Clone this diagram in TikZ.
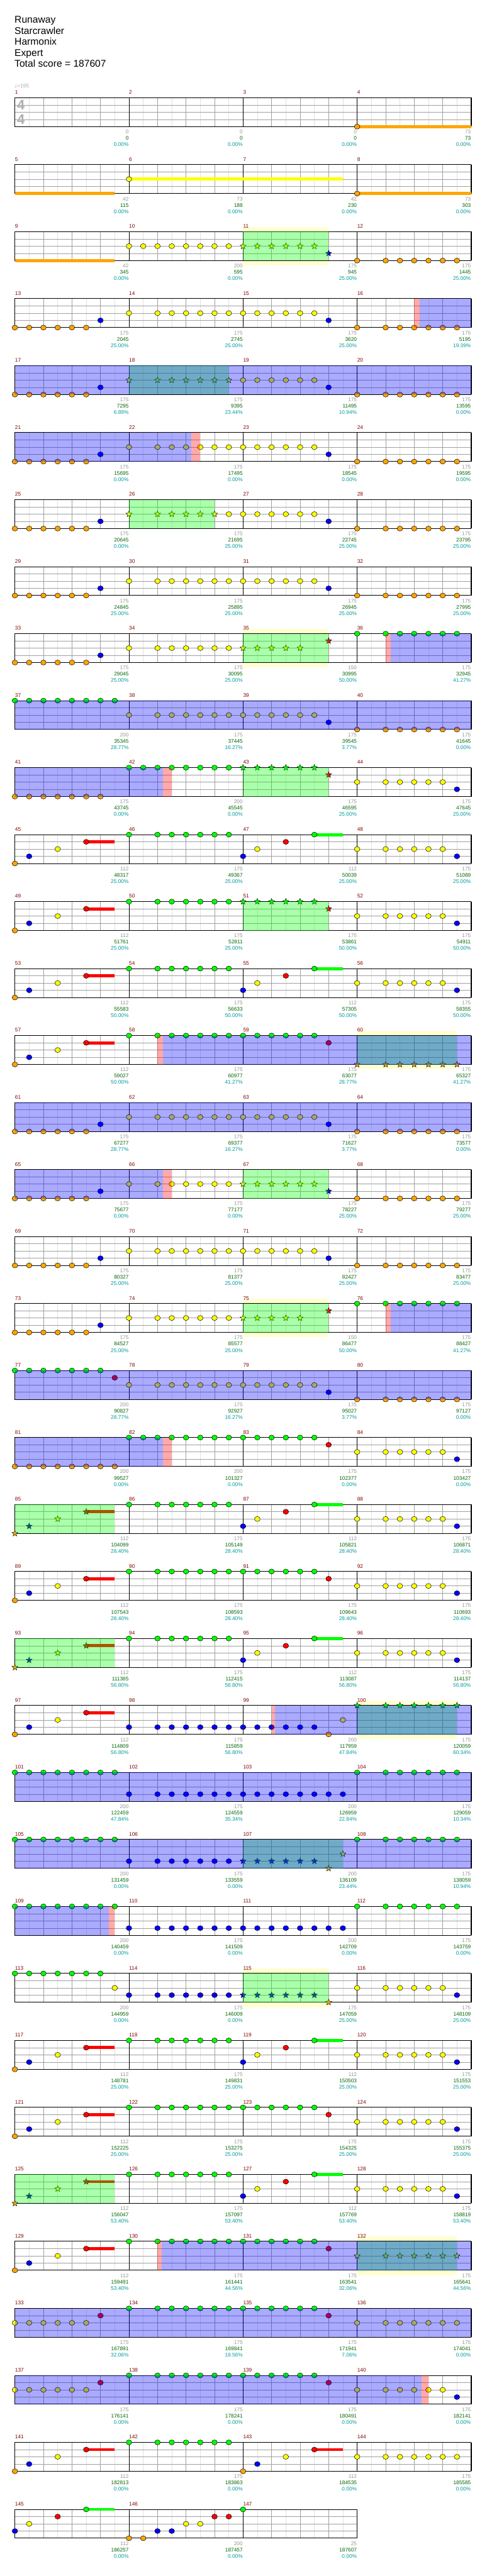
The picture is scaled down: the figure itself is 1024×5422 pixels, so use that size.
\documentclass[tikz,border=0pt]{standalone}
\usepackage{fontspec}
\setmainfont{Liberation Sans}
\newfontfamily\djv{DejaVu Sans}
\usetikzlibrary{shapes.geometric}

\definecolor{cG}{RGB}{0,255,0}
\definecolor{cR}{RGB}{255,0,0}
\definecolor{cY}{RGB}{255,255,0}
\definecolor{cB}{RGB}{0,0,255}
\definecolor{cO}{RGB}{255,165,0}
\definecolor{mnumc}{RGB}{128,0,0}
\definecolor{gryc}{RGB}{150,150,150}
\definecolor{grnc}{RGB}{0,100,0}
\definecolor{pctc}{RGB}{0,153,153}
\definecolor{litec}{RGB}{225,225,225}
\definecolor{midc}{RGB}{160,160,160}
\definecolor{palec}{RGB}{255,255,208}
\definecolor{tsigc}{RGB}{175,175,175}

\newcommand\labfont{\fontsize{8.25}{9}\selectfont}
\newcommand\ttlfont{\fontsize{15.5}{17}\selectfont}
\newcommand\tsfont{\fontsize{22}{24}\selectfont\bfseries}

\def\yG{0}\def\yR{15.2}\def\yY{30.4}\def\yB{45.6}\def\yO{60.8}
\newcommand\setlane[1]{\expandafter\let\expandafter\ly\csname y#1\endcsname}
\newcommand\nt[2]{\setlane{#1}\foreach \q in {#2}{\node[nt,fill=c#1] (#1\q) at ({31.35+30*\q},\ly) {};}}
\newcommand\sn[2]{\setlane{#1}\foreach \q in {#2}{\node[sn,fill=c#1] (#1\q) at ({31.35+30*\q},\ly) {};}}
\newcommand\sus[3]{\setlane{#1}\fill[c#1] ({31.35+30*#2},{\ly-3.2}) rectangle ({31.35+30*#3},{\ly+3.2});}
\newcommand\flr[2]{\fill[cG,fill opacity=.333] ({31.35+30*#1},0) rectangle ({31.35+30*#2},60.8);}
\newcommand\odr[2]{\fill[cB,fill opacity=.333] ({31.35+30*#1},0) rectangle ({31.35+30*#2},60.8);}
\newcommand\pkr[2]{\fill[cR,fill opacity=.333] ({31.35+30*#1},0) rectangle ({31.35+30*#2},60.8);}
\newcommand\paler[2]{\fill[palec] ({31.35+30*#1},-10) rectangle ({31.35+30*#2},71);}

\newcommand\staffgrid[2]{%
  \pgfmathsetmacro\xe{31.35+240*#2}%
  \pgfmathtruncatemacro\ke{8*#2}%
  \pgfmathtruncatemacro\mm{#2-1}%
  \fill[white] (31.35,0) rectangle (\xe,60.8);
  \foreach \q in {1,3,...,\ke} \draw[lite] ({31.35+30*\q},0) -- ({31.35+30*\q},60.8);
  \foreach \y in {15.2,30.4,45.6} \draw[mid] (31.35,\y) -- (\xe,\y);
  \foreach \q in {2,4,...,\ke} \draw[mid] ({31.35+30*\q},0) -- ({31.35+30*\q},60.8);
  \foreach \q in {8,16,...,\ke} \draw[barl] ({31.35+30*\q},0) -- ({31.35+30*\q},60.8);
  \draw[frame] (31.35,0) rectangle (\xe,60.8);
  \foreach \m in {0,...,\mm}{\pgfmathtruncatemacro\mno{#1+\m}\node[mnum] (m\mno) at ({31.35+240*\m},-7.5) {\mno};}}

\newcommand\scores[1]{\foreach \ga/\sb/\pc [count=\i] in {#1}{%
  \node[gry] (g\i) at ({30.85+240*\i},75.7) {\ga};
  \node[grn] (s\i) at ({30.85+240*\i},89) {\sb};
  \node[pct] (p\i) at ({30.85+240*\i},102.3) {\pc\%};}}

\newcommand\grooveA{\nt{O}{0,...,5}\nt{B}{6}\nt{Y}{8}\nt{Y}{10,...,21}\nt{B}{22}\nt{O}{24}\nt{O}{26,...,31}}
\newcommand\introA{\nt{O}{0}\nt{B}{1}\nt{Y}{3}\sus{R}{5}{7}\nt{R}{5}}
\newcommand\tailA{\nt{Y}{24}\nt{Y}{26,...,30}\nt{B}{31}}
\newcommand\chorusA{\introA\nt{G}{8}\nt{G}{10,...,15}\nt{B}{16}\nt{Y}{17}\nt{R}{19}\sus{G}{21}{23}\nt{G}{21}\tailA}
\newcommand\fillA{\sn{O}{0}\sn{B}{1}\sn{Y}{3}\sus{R}{5}{7}\sn{R}{5}\nt{G}{8}\nt{G}{10,...,15}\nt{B}{16}\nt{Y}{17}\nt{R}{19}\sus{G}{21}{23}\nt{G}{21}\tailA\flr{0}{7}}
\newcommand\crashA{\introA\nt{G}{8}\nt{G}{10,...,21}\nt{R}{22}}

\begin{document}
\begin{tikzpicture}[x=0.75pt,y=-0.75pt,
    nt/.style={ellipse,draw=black,line width=.5pt,minimum width=8.8pt,minimum height=7.9pt,inner sep=0pt},
    sn/.style={star,star points=5,star point ratio=2.3,draw=black,line width=.45pt,minimum size=10pt,inner sep=0pt},
    lite/.style={draw=litec,line width=.6pt},
    mid/.style={draw=midc,line width=.6pt},
    barl/.style={draw=black,line width=.6pt},
    frame/.style={draw=black,line width=1pt},
    mnum/.style={text=mnumc,font=\labfont,anchor=base west,inner sep=0pt},
    gry/.style={text=gryc,font=\labfont,anchor=base east,inner sep=0pt},
    grn/.style={text=grnc,font=\labfont,anchor=base east,inner sep=0pt},
    pct/.style={text=pctc,font=\labfont,anchor=base east,inner sep=0pt},
    ttl/.style={font=\ttlfont,anchor=base west,inner sep=0pt},
    tsig/.style={text=tsigc,font=\tsfont,inner sep=0pt},
    tempo/.style={text=gryc!80,font=\labfont,anchor=base west,inner sep=0pt},
    rowat/.style={shift={(0,{205.7+141*#1})},name prefix=r#1-}
  ]
  \useasboundingbox (0,0) rectangle (1024,5422);
  \foreach \t [count=\i] in {Runaway,Starcrawler,Harmonix,Expert,Total score = 187607}
    \node[ttl] (title\i) at (30.5,{25.5+23.2*\i}) {\t};

  \begin{scope}[rowat=0]
    \staffgrid{1}{4}
    \node[tsig] (ts1) at (44,15.2) {4};
    \node[tsig] (ts2) at (44,45.6) {4};
    \node[tempo] (tempo) at (30.5,-21.5) {{\djv ♩}=195};
    \sus{O}{24}{32}\nt{O}{24}
    \scores{0/0/0.00,0/0/0.00,0/0/0.00,73/73/0.00}
  \end{scope}
  \begin{scope}[rowat=1]
    \staffgrid{5}{4}
    \sus{O}{0}{7}\sus{Y}{8}{23}\nt{Y}{8}\sus{O}{24}{32}\nt{O}{24}
    \scores{42/115/0.00,73/188/0.00,42/230/0.00,73/303/0.00}
  \end{scope}
  \begin{scope}[rowat=2]
    \paler{16}{22}
    \staffgrid{9}{4}
    \sus{O}{0}{7}\nt{Y}{8,...,15}\sn{Y}{16,...,21}\sn{B}{22}\nt{O}{24}\nt{O}{26,...,31}
    \flr{16}{22}
    \scores{42/345/0.00,200/595/0.00,175/945/25.00,175/1445/25.00}
  \end{scope}
  \begin{scope}[rowat=3]
    \staffgrid{13}{4}
    \grooveA
    \pkr{28}{28.38}\odr{28.38}{32}
    \scores{175/2045/25.00,175/2745/25.00,175/3620/25.00,175/5195/19.39}
  \end{scope}
  \begin{scope}[rowat=4]
    \staffgrid{17}{4}
    \nt{O}{0,...,5}\nt{B}{6}\sn{Y}{8}\sn{Y}{10,...,15}\nt{Y}{16,...,21}\nt{B}{22}\nt{O}{24}\nt{O}{26,...,31}
    \flr{8}{15}\odr{0}{32}
    \scores{175/7295/6.89,175/9395/23.44,175/11495/10.94,175/13595/0.00}
  \end{scope}
  \begin{scope}[rowat=5]
    \staffgrid{21}{4}
    \grooveA
    \odr{0}{12.39}\pkr{12.39}{13}
    \scores{175/15695/0.00,175/17495/0.00,175/18545/0.00,175/19595/0.00}
  \end{scope}
  \begin{scope}[rowat=6]
    \staffgrid{25}{4}
    \nt{O}{0,...,5}\nt{B}{6}\sn{Y}{8}\sn{Y}{10,...,14}\nt{Y}{15,...,21}\nt{B}{22}\nt{O}{24}\nt{O}{26,...,31}
    \flr{8}{14}
    \scores{175/20645/0.00,175/21695/25.00,175/22745/25.00,175/23795/25.00}
  \end{scope}
  \begin{scope}[rowat=7]
    \staffgrid{29}{4}
    \grooveA
    \scores{175/24845/25.00,175/25895/25.00,175/26945/25.00,175/27995/25.00}
  \end{scope}
  \begin{scope}[rowat=8]
    \paler{16}{22}
    \staffgrid{33}{4}
    \nt{O}{0,...,5}\nt{B}{6}\nt{Y}{8}\nt{Y}{10,...,15}\sn{Y}{16,...,20}\sn{R}{22}\nt{G}{24}\nt{G}{26,...,31}
    \flr{16}{22}\pkr{26}{26.37}\odr{26.37}{32}
    \scores{175/29045/25.00,175/30095/25.00,150/30995/50.00,175/32945/41.27}
  \end{scope}
  \begin{scope}[rowat=9]
    \staffgrid{37}{4}
    \nt{G}{0,...,7}\nt{Y}{8}\nt{Y}{10,...,21}\nt{B}{22}\nt{O}{24}\nt{O}{26,...,31}
    \odr{0}{32}
    \scores{200/35345/28.77,175/37445/16.27,175/39545/3.77,175/41645/0.00}
  \end{scope}
  \begin{scope}[rowat=10]
    \staffgrid{41}{4}
    \nt{O}{0,...,6}\nt{G}{8,...,15}\sn{G}{16,...,21}\sn{R}{22}\tailA
    \flr{16}{22}\odr{0}{10.39}\pkr{10.39}{11}
    \scores{175/43745/0.00,200/45545/0.00,175/46595/25.00,175/47645/25.00}
  \end{scope}
  \begin{scope}[rowat=11]
    \staffgrid{45}{4}
    \chorusA
    \scores{112/48317/25.00,175/49367/25.00,112/50039/25.00,175/51089/25.00}
  \end{scope}
  \begin{scope}[rowat=12]
    \staffgrid{49}{4}
    \introA\nt{G}{8}\nt{G}{10,...,15}\sn{G}{16,...,21}\sn{R}{22}\tailA
    \flr{16}{22}
    \scores{112/51761/25.00,175/52811/25.00,175/53861/50.00,175/54911/50.00}
  \end{scope}
  \begin{scope}[rowat=13]
    \staffgrid{53}{4}
    \chorusA
    \scores{112/55583/50.00,175/56633/50.00,112/57305/50.00,175/58355/50.00}
  \end{scope}
  \begin{scope}[rowat=14]
    \paler{24}{31}
    \staffgrid{57}{4}
    \crashA\sn{O}{24}\sn{O}{26,...,31}
    \flr{24}{31}\pkr{10}{10.39}\odr{10.39}{32}
    \scores{112/59027/50.00,175/60977/41.27,175/63077/28.77,175/65327/41.27}
  \end{scope}
  \begin{scope}[rowat=15]
    \staffgrid{61}{4}
    \grooveA
    \odr{0}{32}
    \scores{175/67277/28.77,175/69377/16.27,175/71627/3.77,175/73577/0.00}
  \end{scope}
  \begin{scope}[rowat=16]
    \staffgrid{65}{4}
    \nt{O}{0,...,5}\nt{B}{6}\nt{Y}{8}\nt{Y}{10,...,15}\sn{Y}{16,...,21}\sn{B}{22}\nt{O}{24}\nt{O}{26,...,31}
    \flr{16}{22}\odr{0}{10.39}\pkr{10.39}{11}
    \scores{175/75677/0.00,175/77177/0.00,175/78227/25.00,175/79277/25.00}
  \end{scope}
  \begin{scope}[rowat=17]
    \staffgrid{69}{4}
    \grooveA
    \scores{175/80327/25.00,175/81377/25.00,175/82427/25.00,175/83477/25.00}
  \end{scope}
  \begin{scope}[rowat=18]
    \paler{16}{22}
    \staffgrid{73}{4}
    \nt{O}{0,...,5}\nt{B}{6}\nt{Y}{8}\nt{Y}{10,...,15}\sn{Y}{16,...,20}\sn{R}{22}\nt{G}{24}\nt{G}{26,...,31}
    \flr{16}{22}\pkr{26}{26.37}\odr{26.37}{32}
    \scores{175/84527/25.00,175/85577/25.00,150/86477/50.00,175/88427/41.27}
  \end{scope}
  \begin{scope}[rowat=19]
    \staffgrid{77}{4}
    \nt{G}{0,...,6}\nt{R}{7}\nt{Y}{8}\nt{Y}{10,...,21}\nt{B}{22}\nt{O}{24}\nt{O}{26,...,31}
    \odr{0}{32}
    \scores{200/90827/28.77,175/92927/16.27,175/95027/3.77,175/97127/0.00}
  \end{scope}
  \begin{scope}[rowat=20]
    \staffgrid{81}{4}
    \nt{O}{0,...,7}\nt{G}{8,...,21}\nt{R}{22}\tailA
    \odr{0}{10.39}\pkr{10.39}{11}
    \scores{200/99527/0.00,200/101327/0.00,175/102377/0.00,175/103427/0.00}
  \end{scope}
  \begin{scope}[rowat=21]
    \staffgrid{85}{4}
    \fillA
    \scores{112/104099/28.40,175/105149/28.40,112/105821/28.40,175/106871/28.40}
  \end{scope}
  \begin{scope}[rowat=22]
    \staffgrid{89}{4}
    \crashA\tailA
    \scores{112/107543/28.40,175/108593/28.40,175/109643/28.40,175/110693/28.40}
  \end{scope}
  \begin{scope}[rowat=23]
    \staffgrid{93}{4}
    \fillA
    \scores{112/111365/56.80,175/112415/56.80,112/113087/56.80,175/114137/56.80}
  \end{scope}
  \begin{scope}[rowat=24]
    \paler{24}{31}
    \staffgrid{97}{4}
    \introA\nt{B}{8}\nt{B}{10,...,21}\nt{O}{22}\nt{Y}{23}\sn{G}{24}\sn{G}{26,...,31}
    \flr{24}{31}\pkr{18}{18.22}\odr{18.22}{32}
    \scores{112/114809/56.80,175/115859/56.80,200/117959/47.84,175/120059/60.34}
  \end{scope}
  \begin{scope}[rowat=25]
    \staffgrid{101}{4}
    \nt{G}{0,...,7}\nt{B}{8}\nt{B}{10,...,23}\nt{G}{24}\nt{G}{26,...,31}
    \odr{0}{32}
    \scores{200/122459/47.84,175/124559/35.34,200/126959/22.84,175/129059/10.34}
  \end{scope}
  \begin{scope}[rowat=26]
    \staffgrid{105}{4}
    \nt{G}{0,...,7}\nt{B}{8}\nt{B}{10,...,15}\sn{B}{16,...,21}\sn{O}{22}\sn{Y}{23}\nt{G}{24}\nt{G}{26,...,31}
    \flr{16}{23}\odr{0}{32}
    \scores{200/131459/0.00,175/133559/0.00,200/136109/23.44,175/138059/10.94}
  \end{scope}
  \begin{scope}[rowat=27]
    \staffgrid{109}{4}
    \nt{G}{0,...,7}\nt{B}{8}\nt{B}{10,...,23}\nt{G}{24}\nt{G}{26,...,31}
    \odr{0}{6.6}\pkr{6.6}{7}
    \scores{200/140459/0.00,175/141509/0.00,200/142709/0.00,175/143759/0.00}
  \end{scope}
  \begin{scope}[rowat=28]
    \paler{16}{22}
    \staffgrid{113}{4}
    \nt{G}{0,...,6}\nt{Y}{7}\nt{B}{8}\nt{B}{10,...,15}\sn{B}{16,...,21}\sn{O}{22}\tailA
    \flr{16}{22}
    \scores{200/144959/0.00,175/146009/0.00,175/147059/25.00,175/148109/25.00}
  \end{scope}
  \begin{scope}[rowat=29]
    \staffgrid{117}{4}
    \chorusA
    \scores{112/148781/25.00,175/149831/25.00,112/150503/25.00,175/151553/25.00}
  \end{scope}
  \begin{scope}[rowat=30]
    \staffgrid{121}{4}
    \crashA\tailA
    \scores{112/152225/25.00,175/153275/25.00,175/154325/25.00,175/155375/25.00}
  \end{scope}
  \begin{scope}[rowat=31]
    \staffgrid{125}{4}
    \fillA
    \scores{112/156047/53.40,175/157097/53.40,112/157769/53.40,175/158819/53.40}
  \end{scope}
  \begin{scope}[rowat=32]
    \paler{24}{31}
    \staffgrid{129}{4}
    \crashA\sn{Y}{24}\sn{Y}{26,...,31}
    \flr{24}{31}\pkr{10}{10.3}\odr{10.3}{32}
    \scores{112/159491/53.40,175/161441/44.56,175/163541/32.06,175/165641/44.56}
  \end{scope}
  \begin{scope}[rowat=33]
    \staffgrid{133}{4}
    \nt{Y}{0,...,5}\nt{R}{6}\nt{G}{8}\nt{G}{10,...,21}\nt{R}{22}\nt{Y}{24}\nt{Y}{26,...,31}
    \odr{0}{32}
    \scores{175/167891/32.06,175/169841/19.56,175/171941/7.06,175/174041/0.00}
  \end{scope}
  \begin{scope}[rowat=34]
    \staffgrid{137}{4}
    \nt{Y}{0,...,5}\nt{R}{6}\nt{G}{8}\nt{G}{10,...,21}\nt{R}{22}\tailA
    \odr{0}{28.5}\pkr{28.5}{29}
    \scores{175/176141/0.00,175/178241/0.00,175/180491/0.00,175/182141/0.00}
  \end{scope}
  \begin{scope}[rowat=35]
    \staffgrid{141}{4}
    \introA\nt{G}{8}\nt{G}{10,...,15}\nt{O}{16}\nt{B}{17}\nt{Y}{19}\sus{R}{21}{23}\nt{R}{21}\nt{Y}{24}\nt{Y}{26,...,31}
    \scores{112/182813/0.00,175/183863/0.00,112/184535/0.00,175/185585/0.00}
  \end{scope}
  \begin{scope}[rowat=36]
    \staffgrid{145}{3}
    \nt{B}{0}\nt{Y}{1}\nt{R}{3}\sus{G}{5}{7}\nt{G}{5}\nt{O}{8,9}\nt{B}{10,11}\nt{Y}{12,13}\nt{R}{14,15}\nt{G}{16}
    \scores{112/186257/0.00,200/187457/0.00,25/187607/0.00}
  \end{scope}
\end{tikzpicture}
\end{document}
